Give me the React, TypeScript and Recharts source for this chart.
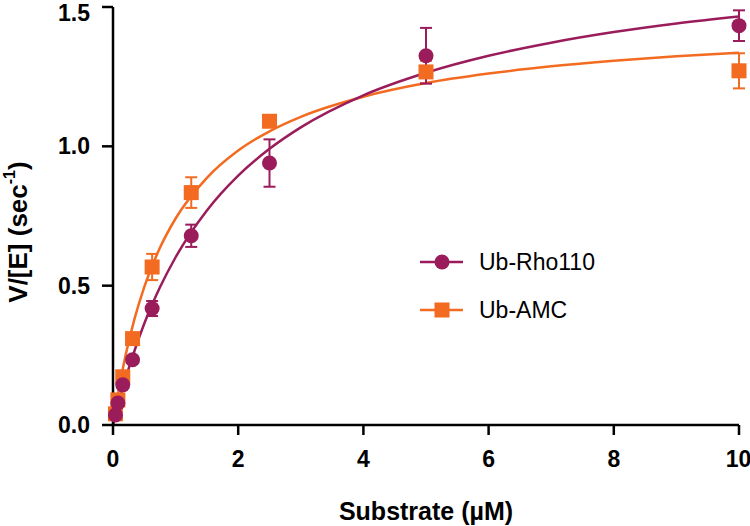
import React from "react";
import {
  ComposedChart,
  ErrorBar,
  Line,
  Scatter,
  XAxis,
  YAxis,
} from "recharts";

// measured points (mean ± error)
const substrate = [0.039, 0.078, 0.156, 0.3125, 0.625, 1.25, 2.5, 5, 10];
const rhoRate = [0.036, 0.079, 0.144, 0.234, 0.418, 0.679, 0.94, 1.325, 1.433];
const rhoErr = [0.005, 0.008, 0.01, 0.012, 0.027, 0.04, 0.085, 0.1, 0.055];
const amcRate = [0.04, 0.09, 0.173, 0.31, 0.567, 0.834, 1.09, 1.267, 1.271];
const amcErr = [0.005, 0.008, 0.01, 0.012, 0.047, 0.055, 0.015, 0.04, 0.063];

// fitted curves
const fitX = [0, 0.05, 0.1, 0.2, 0.35, 0.5, 0.75, 1, 1.5, 2, 2.5, 3, 4, 5, 6, 7, 8, 9, 10];
const rhoFit = [0, 0.045, 0.087, 0.166, 0.271, 0.364, 0.494, 0.602, 0.77, 0.895, 0.991, 1.068, 1.183, 1.264, 1.325, 1.372, 1.41, 1.441, 1.466];
const amcFit = [0, 0.071, 0.136, 0.249, 0.386, 0.496, 0.636, 0.741, 0.887, 0.985, 1.054, 1.106, 1.178, 1.227, 1.261, 1.287, 1.307, 1.323, 1.336];

const xTicks = [0, 2, 4, 6, 8, 10];
const yTicks = [0, 0.5, 1, 1.5];

const RHO = "#9a1c5b";
const AMC = "#f36b21";
const FONT = "'Liberation Sans', Arial, sans-serif";

const rhoPoints = substrate.map((x, i) => ({ x, y: rhoRate[i], err: rhoErr[i] }));
const amcPoints = substrate.map((x, i) => ({ x, y: amcRate[i], err: amcErr[i] }));
const rhoCurve = fitX.map((x, i) => ({ x, y: rhoFit[i] }));
const amcCurve = fitX.map((x, i) => ({ x, y: amcFit[i] }));

const axisStyle = { stroke: "#000", strokeWidth: 2.5 };
const tickStyle = { fill: "#000", fontSize: 23, fontWeight: 700, fontFamily: FONT };

const Dot = (p: any) => <circle cx={p.cx} cy={p.cy} r={7.5} fill={RHO} />;
const Box = (p: any) => (
  <rect x={p.cx - 7.5} y={p.cy - 7.5} width={15} height={15} fill={AMC} />
);

function KeyBox() {
  const rows = [
    { name: "Ub-Rho110", color: RHO, square: false },
    { name: "Ub-AMC", color: AMC, square: true },
  ];
  return (
    <svg width={200} height={100} style={{ display: "block" }}>
      {rows.map((r, i) => {
        const y = 22 + i * 48;
        return (
          <g key={r.name}>
            <line x1={10} x2={53} y1={y} y2={y} stroke={r.color} strokeWidth={2.5} />
            {r.square ? (
              <rect x={24.5} y={y - 7.5} width={15} height={15} fill={r.color} />
            ) : (
              <circle cx={32} cy={y} r={7.5} fill={r.color} />
            )}
            <text
              x={69}
              y={y}
              dominantBaseline="central"
              fontSize={23}
              fontFamily={FONT}
              fill="#000"
            >
              {r.name}
            </text>
          </g>
        );
      })}
    </svg>
  );
}

const YTitle = () => (
  <text
    transform="translate(18, 232) rotate(-90)"
    textAnchor="middle"
    dominantBaseline="central"
    fontSize={26}
    fontWeight={700}
    fontFamily={FONT}
    fill="#000"
  >
    V/[E] (sec
    <tspan fontSize={16} dy={-9}>-1</tspan>
    <tspan dy={9}>)</tspan>
  </text>
);

export default function App() {
  return (
    <div style={{ position: "absolute", left: 0, top: 0, background: "#fff" }}>
      <ComposedChart
        width={750}
        height={526}
        margin={{ top: 7, right: 11, bottom: 0, left: 0 }}
      >
        <XAxis
          dataKey="x"
          type="number"
          domain={[0, 10]}
          ticks={xTicks}
          axisLine={axisStyle}
          tickLine={axisStyle}
          tickSize={10}
          tickMargin={16}
          tick={tickStyle}
          height={101}
          label={{
            value: "Substrate (µM)",
            position: "insideBottom",
            offset: 6,
            style: { fill: "#000", fontSize: 25, fontWeight: 700, fontFamily: FONT },
          }}
        />
        <YAxis
          type="number"
          domain={[0, 1.5]}
          ticks={yTicks}
          tickFormatter={(v: number) => v.toFixed(1)}
          axisLine={axisStyle}
          tickLine={axisStyle}
          tickSize={11}
          tickMargin={12}
          tick={tickStyle}
          width={113}
          label={<YTitle />}
        />
        <Line
          data={amcCurve}
          dataKey="y"
          type="monotone"
          stroke={AMC}
          strokeWidth={2.5}
          dot={false}
          activeDot={false}
          isAnimationActive={false}
        />
        <Line
          data={rhoCurve}
          dataKey="y"
          type="monotone"
          stroke={RHO}
          strokeWidth={2.5}
          dot={false}
          activeDot={false}
          isAnimationActive={false}
        />
        <Scatter data={amcPoints} dataKey="y" shape={Box} isAnimationActive={false}>
          <ErrorBar dataKey="err" direction="y" width={6} stroke={AMC} strokeWidth={2} />
        </Scatter>
        <Scatter data={rhoPoints} dataKey="y" shape={Dot} isAnimationActive={false}>
          <ErrorBar dataKey="err" direction="y" width={6} stroke={RHO} strokeWidth={2} />
        </Scatter>
      </ComposedChart>
      <div style={{ position: "absolute", left: 410, top: 240 }}>
        <KeyBox />
      </div>
    </div>
  );
}
